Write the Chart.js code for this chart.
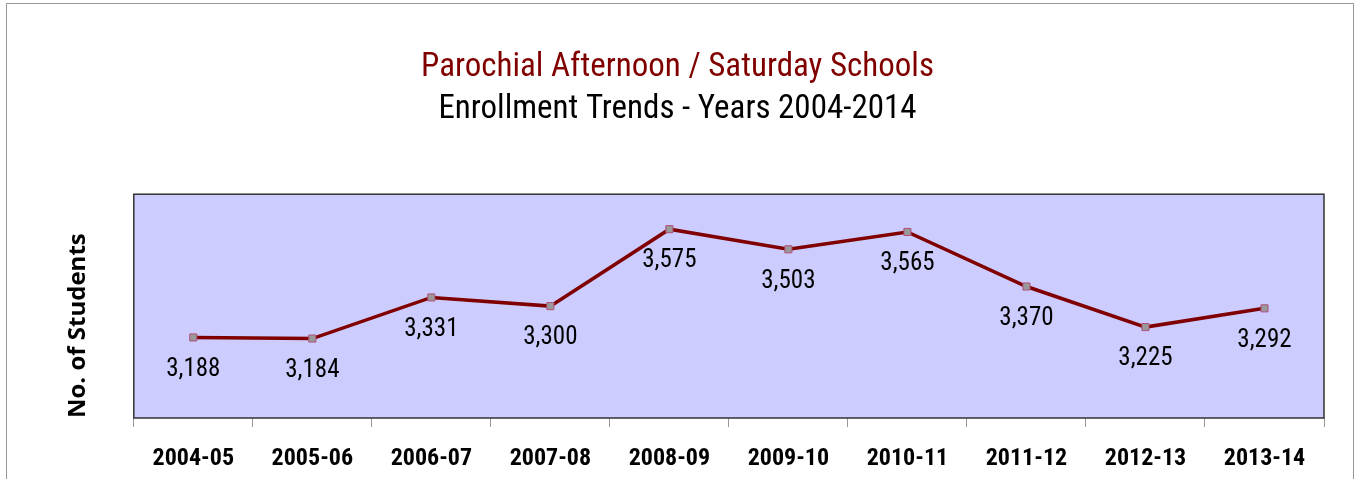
<!DOCTYPE html>
<html>
<head>
<meta charset="utf-8">
<script src="https://cdn.jsdelivr.net/npm/chart.js@4"></script>
<style>
  html, body { margin: 0; padding: 0; background: #fff; }
  #wrap { width: 1355px; height: 479px; }
</style>
</head>
<body>
<div id="wrap"><canvas id="enrollChart" width="1355" height="479"></canvas></div>
<script>
const years = ["2004-05", "2005-06", "2006-07", "2007-08", "2008-09", "2009-10", "2010-11", "2011-12", "2012-13", "2013-14"];
const students = [3188, 3184, 3331, 3300, 3575, 3503, 3565, 3370, 3225, 3292];
const yMin = 2900;
const yMax = 3700;

const narrow = "'Liberation Sans Narrow', 'Arial Narrow', 'Roboto Condensed', sans-serif";

// plot background, plot frame, outer frame, value labels
const decor = {
  id: "decor",
  beforeDatasetsDraw(chart) {
    const { ctx, chartArea: a } = chart;
    ctx.save();
    ctx.fillStyle = "#CCCCFF";
    ctx.fillRect(a.left, a.top, a.right - a.left, a.bottom - a.top);
    ctx.strokeStyle = "#333";
    ctx.lineWidth = 1.5;
    ctx.strokeRect(a.left, a.top, a.right - a.left, a.bottom - a.top);
    ctx.strokeStyle = "#999";
    ctx.lineWidth = 1;
    ctx.strokeRect(6.5, 3.5, 1347, 520);
    ctx.restore();
  },
  afterDatasetsDraw(chart) {
    const { ctx } = chart;
    const meta = chart.getDatasetMeta(0);
    ctx.save();
    ctx.font = "25px " + narrow;
    ctx.fillStyle = "#000";
    ctx.textAlign = "center";
    ctx.textBaseline = "middle";
    meta.data.forEach((pt, i) => {
      ctx.fillText(students[i].toLocaleString("en-US"), pt.x, pt.y + 32);
    });
    ctx.restore();
  }
};

new Chart(document.getElementById("enrollChart"), {
  type: "line",
  data: {
    labels: years,
    datasets: [
      {
        label: "Enrollment",
        data: students,
        borderColor: "#800000",
        borderWidth: 3.5,
        pointStyle: "rect",
        pointRadius: 5,
        pointBackgroundColor: "#999999",
        pointBorderColor: "#B0507A",
        pointBorderWidth: 1,
        tension: 0,
      },
    ],
  },
  plugins: [decor],
  options: {
    responsive: false,
    animation: false,
    layout: {
      padding: { left: 31, right: 31, top: 0, bottom: -12 },
    },
    scales: {
      x: {
        offset: true,
        grid: {
          offset: true,
          drawOnChartArea: false,
          tickLength: 9,
          color: "#999",
        },
        border: { display: false },
        ticks: {
          color: "#000",
          padding: 20,
          font: { family: narrow, size: 24, weight: "bold", lineHeight: 1 },
        },
      },
      y: {
        min: yMin,
        max: yMax,
        ticks: { display: false },
        grid: { display: false },
        border: { display: false },
        title: {
          display: true,
          align: "start",
          text: "No. of Students",
          color: "#000",
          font: { family: "'Open Sans', sans-serif", size: 24, weight: "bold" },
          padding: { top: 33, bottom: 33 },
        },
      },
    },
    plugins: {
      legend: { display: false },
      tooltip: { enabled: false },
      title: {
        display: true,
        text: "Parochial Afternoon / Saturday Schools",
        color: "#800000",
        font: { family: narrow, size: 33, weight: "normal" },
        padding: { top: 48, bottom: 0 },
      },
      subtitle: {
        display: true,
        text: "Enrollment Trends - Years 2004-2014",
        color: "#000",
        font: { family: narrow, size: 33, weight: "normal" },
        padding: { top: 2, bottom: 65 },
      },
    },
  },
});
</script>
</body>
</html>
